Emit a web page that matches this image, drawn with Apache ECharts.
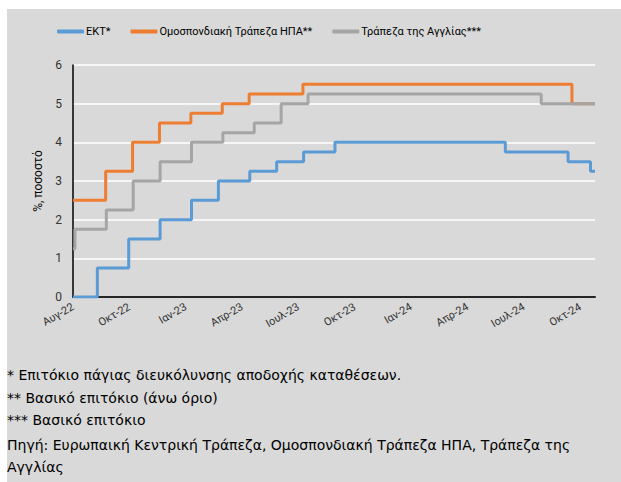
<!DOCTYPE html>
<html>
<head>
<meta charset="utf-8">
<script src="https://cdn.jsdelivr.net/npm/echarts@6/dist/echarts.min.js"></script>
<style>
  html, body { margin: 0; padding: 0; background: #fff; }
  #main {
    position: absolute; left: 7px; top: 9px;
    width: 614px; height: 473px;
    background: #d9d9d9; overflow: hidden;
  }
</style>
</head>
<body>
<div id="main"></div>
<script>
// Εύρος ημερομηνιών του άξονα (ημερήσια στοιχεία)
const startDate = '2022-08-01';
const endDate = '2024-10-24';
const monthNames = ['Ιαν', 'Φεβ', 'Μαρ', 'Απρ', 'Μαϊ', 'Ιουν', 'Ιουλ', 'Αυγ', 'Σεπ', 'Οκτ', 'Νοε', 'Δεκ'];

// ΕΚΤ - επιτόκιο αποδοχής καταθέσεων (ημερομηνίες αποφάσεων)
const ecbDates = ['2022-08-01', '2022-09-08', '2022-10-27', '2022-12-15', '2023-02-02', '2023-03-16', '2023-05-04', '2023-06-15', '2023-07-27', '2023-09-14', '2024-06-06', '2024-09-12', '2024-10-17', '2024-10-24'];
const ecbRates = [0, 0.75, 1.5, 2.0, 2.5, 3.0, 3.25, 3.5, 3.75, 4.0, 3.75, 3.5, 3.25, 3.25];

// Fed - ανώτατο όριο
const fedDates = ['2022-08-01', '2022-09-21', '2022-11-02', '2022-12-14', '2023-02-01', '2023-03-22', '2023-05-03', '2023-07-26', '2024-09-18', '2024-10-24'];
const fedRates = [2.5, 3.25, 4.0, 4.5, 4.75, 5.0, 5.25, 5.5, 5.0, 5.0];

// Τράπεζα της Αγγλίας
const boeDates = ['2022-08-01', '2022-08-04', '2022-09-22', '2022-11-03', '2022-12-15', '2023-02-02', '2023-03-23', '2023-05-11', '2023-06-22', '2023-08-03', '2024-08-01', '2024-10-24'];
const boeRates = [1.25, 1.75, 2.25, 3.0, 3.5, 4.0, 4.25, 4.5, 5.0, 5.25, 5.0, 5.0];

const footnotes = [
  '* Επιτόκιο πάγιας διευκόλυνσης αποδοχής καταθέσεων.',
  '** Βασικό επιτόκιο (άνω όριο)',
  '*** Βασικό επιτόκιο',
  'Πηγή: Ευρωπαική Κεντρική Τράπεζα, Ομοσπονδιακή Τράπεζα ΗΠΑ, Τράπεζα της',
  'Αγγλίας'
];
// κέντρα γραμμών στη σελίδα
const footY = [376, 399, 421, 446, 468];

// κατηγορίες: κάθε μέρα
function pad(n) { return n < 10 ? '0' + n : '' + n; }
const days = [];
let d = new Date(startDate + 'T00:00:00Z');
const last = new Date(endDate + 'T00:00:00Z');
while (d <= last) {
  days.push(d.getUTCFullYear() + '-' + pad(d.getUTCMonth() + 1) + '-' + pad(d.getUTCDate()));
  d = new Date(d.getTime() + 86400000);
}

function pairs(dates, rates) {
  return dates.map((x, i) => [x, rates[i]]);
}

const chart = echarts.init(document.getElementById('main'), null, { renderer: 'svg' });

chart.setOption({
  animation: false,
  color: ['#5b9bd5', '#ed7d31', '#a5a5a5'],
  legend: {
    left: 45,
    top: 12,
    itemWidth: 27,
    itemHeight: 4,
    itemGap: 20,
    icon: 'roundRect',
    textStyle: { fontFamily: 'Roboto', fontSize: 11, color: '#000', padding: [0, 0, 0, -3] },
    data: ['ΕΚΤ*', 'Ομοσπονδιακή Τράπεζα ΗΠΑ**', 'Τράπεζα της Αγγλίας***']
  },
  grid: { left: 66, right: 26, top: 56, bottom: 185 },
  xAxis: {
    type: 'category',
    data: days,
    boundaryGap: false,
    axisLine: { lineStyle: { color: '#262626', width: 2 } },
    axisTick: { show: false },
    axisLabel: {
      interval: 87,
      rotate: 30,
      margin: 9,
      fontFamily: 'Roboto',
      fontSize: 11,
      color: '#333',
      formatter: v => monthNames[+v.slice(5, 7) - 1] + '-' + v.slice(2, 4)
    },
    splitLine: { show: false }
  },
  yAxis: {
    type: 'value',
    min: 0,
    max: 6,
    interval: 1,
    name: '%, ποσοστό',
    nameLocation: 'middle',
    nameRotate: 90,
    nameGap: 28,
    nameTextStyle: { fontFamily: 'Roboto', fontSize: 12, color: '#000' },
    axisLine: { show: true, lineStyle: { color: '#000', width: 1.5 } },
    axisTick: { show: false },
    axisLabel: { fontFamily: 'Roboto', fontSize: 12, color: '#333', margin: 11 },
    splitLine: { lineStyle: { color: '#ffffff', width: 1.5 } }
  },
  series: [
    {
      name: 'ΕΚΤ*', type: 'line', step: 'end', symbol: 'none',
      lineStyle: { width: 3 }, data: pairs(ecbDates, ecbRates)
    },
    {
      name: 'Ομοσπονδιακή Τράπεζα ΗΠΑ**', type: 'line', step: 'end', symbol: 'none',
      lineStyle: { width: 3 }, data: pairs(fedDates, fedRates)
    },
    {
      name: 'Τράπεζα της Αγγλίας***', type: 'line', step: 'end', symbol: 'none',
      lineStyle: { width: 3 }, data: pairs(boeDates, boeRates)
    }
  ],
  graphic: footnotes.map((t, i) => ({
    type: 'text',
    left: 0,
    top: footY[i] - 9 - 8,
    style: { text: t, font: '14px "DejaVu Sans"', fill: '#000' }
  }))
});
</script>
</body>
</html>
